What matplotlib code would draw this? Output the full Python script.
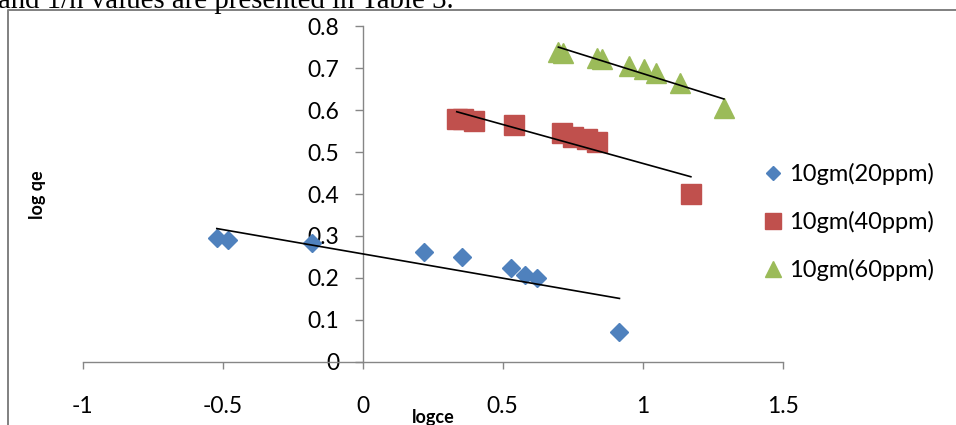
import numpy as np
import matplotlib
matplotlib.use("Agg")
import matplotlib.pyplot as plt
from matplotlib.lines import Line2D

# data (logce, log qe)
x_20 = [-0.521, -0.48, -0.182, 0.22, 0.354, 0.53, 0.58, 0.621, 0.917]
y_20 = [0.2945, 0.290, 0.283, 0.2625, 0.249, 0.223, 0.207, 0.2005, 0.070]
x_40 = [0.336, 0.359, 0.3975, 0.541, 0.713, 0.752, 0.80, 0.836, 1.172]
y_40 = [0.5785, 0.5785, 0.575, 0.564, 0.545, 0.537, 0.531, 0.525, 0.400]
x_60 = [0.699, 0.716, 0.836, 0.854, 0.952, 1.005, 1.046, 1.133, 1.29]
y_60 = [0.740, 0.7375, 0.724, 0.7217, 0.7065, 0.698, 0.688, 0.666, 0.606]
labels = ["10gm(20ppm)", "10gm(40ppm)", "10gm(60ppm)"]
xticks = [-1, -0.5, 0, 0.5, 1, 1.5]
xtick_labels = ["-1", "-0.5", "0", "0.5", "1", "1.5"]
yticks = [0, 0.1, 0.2, 0.3, 0.4, 0.5, 0.6, 0.7, 0.8]
ytick_labels = ["0", "0.1", "0.2", "0.3", "0.4", "0.5", "0.6", "0.7", "0.8"]

plt.rcParams['font.family'] = ['Lato', 'DejaVu Sans']

W, H = 956, 425
fig = plt.figure(figsize=(W / 100, H / 100), dpi=100)
ax = fig.add_axes([82.7 / W, 1 - 361.7 / H, 700 / W, 335.2 / H])

series = [
    (x_20, y_20, 'D', 9.3, '#4F81BD'),
    (x_40, y_40, 's', 14, '#C0504D'),
    (x_60, y_60, '^', 14.4, '#9BBB59'),
]
handles = []
for (xs, ys, mk, ms, col), lab in zip(series, labels):
    ax.plot(xs, ys, linestyle='none', marker=mk, markersize=ms,
            color=col, markeredgecolor=col, zorder=3)
    # linear trendline over the data range
    k, b = np.polyfit(xs, ys, 1)
    xl = np.array([min(xs), max(xs)])
    ax.plot(xl, k * xl + b, color='black', lw=1.2, zorder=4)
    handles.append(Line2D([], [], linestyle='none', marker=mk,
                          markersize=ms * 0.78, color=col, label=lab))

ax.set_xlim(-1, 1.5)
ax.set_ylim(0, 0.8)
ax.set_xticks(xticks)
ax.set_xticklabels(xtick_labels)
ax.set_yticks(yticks)
ax.set_yticklabels(ytick_labels)

grey = '#868686'
for s in ['top', 'right']:
    ax.spines[s].set_visible(False)
ax.spines['left'].set_position(('data', 0))
for s in ['left', 'bottom']:
    ax.spines[s].set_color(grey)
    ax.spines[s].set_linewidth(1.0)
ax.tick_params(axis='x', direction='out', length=5, width=1.0, color=grey,
               labelsize=16.5, pad=20)
ax.tick_params(axis='y', direction='out', length=6, width=1.0, color=grey,
               labelsize=16.5, pad=11)
ax.patch.set_visible(False)

fig.text(433 / W, 1 - 409 / H, "logce", ha='center', va='top',
         fontsize=13, fontweight='bold')
fig.text(38 / W, 1 - 195 / H, "log qe", ha='center', va='center',
         rotation=90, fontsize=13, fontweight='bold')

fig.legend(handles=handles, loc='center left',
           bbox_to_anchor=(761 / W, 1 - 222 / H), frameon=False,
           fontsize=17, borderpad=0, borderaxespad=0, handlelength=1.0,
           handletextpad=0.2, labelspacing=1.1)

# page frame and the cut-off text line above the chart
fig.add_artist(Line2D([8 / W, 8 / W, 1], [0, 1 - 10 / H, 1 - 10 / H],
                      transform=fig.transFigure, color='#808080', lw=1.4))
fig.text(-2 / W, 1 - 8 / H, "and 1/n values are presented in Table 3.",
         fontsize=20.8, family='Liberation Serif', va='baseline', ha='left')

fig.savefig("out.png", dpi=100)
